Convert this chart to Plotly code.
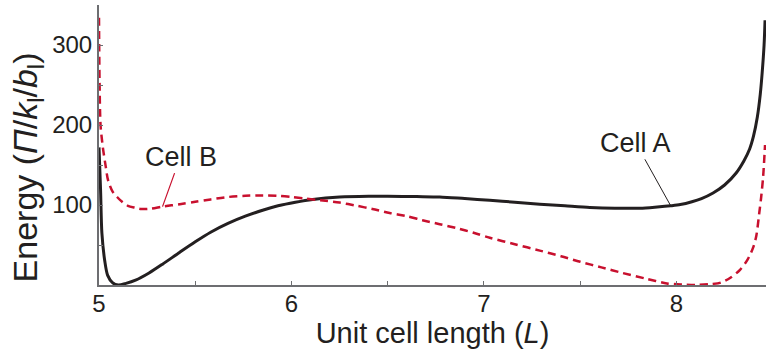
import plotly.graph_objects as go

# Energy landscape of two unit cells vs. unit cell length
cell_a_x = [5.000, 5.008, 5.015, 5.03, 5.045, 5.07, 5.10, 5.14, 5.19, 5.26, 5.33, 5.42,
            5.50, 5.58, 5.67, 5.76, 5.85, 5.93, 6.02, 6.11, 6.25, 6.40, 6.50, 6.65,
            6.77, 6.90, 7.03, 7.16, 7.29, 7.42, 7.55, 7.68, 7.81, 7.90, 7.97, 8.02,
            8.08, 8.13, 8.19, 8.25, 8.31, 8.35, 8.38, 8.40, 8.42, 8.435, 8.445, 8.455, 8.46]
cell_a_y = [172, 120, 65, 30, 12, 3, 0, 2, 6, 15, 26, 41,
            54, 66, 77, 86, 93.5, 99, 103.5, 107, 110, 111, 111, 110.5,
            110, 108, 106, 103.5, 101, 99, 97, 96, 96, 97.5, 99, 100.5,
            104, 108, 115, 125, 140, 155, 170, 186, 210, 238, 265, 300, 331]

cell_b_x = [5.000, 5.001, 5.003, 5.008, 5.02, 5.035, 5.047, 5.07, 5.094, 5.12, 5.15, 5.19,
            5.22, 5.27, 5.33, 5.42, 5.50, 5.58, 5.67, 5.76, 5.85, 5.93, 6.00, 6.07,
            6.15, 6.25, 6.34, 6.42, 6.51, 6.60, 6.68, 6.77, 6.86, 6.95, 7.03, 7.16,
            7.29, 7.40, 7.50, 7.61, 7.72, 7.84, 7.95, 8.03, 8.10, 8.17, 8.23, 8.28,
            8.33, 8.37, 8.40, 8.415, 8.43, 8.44, 8.45, 8.46]
cell_b_y = [334, 300, 252, 200, 172, 148, 131, 117, 110, 104, 99, 96.5,
            95, 95.5, 98, 101, 104, 107, 110, 111.5, 112, 111.5, 110, 108,
            106, 103, 99, 95, 90, 86, 81, 76, 71, 65, 59, 51,
            43, 36, 29, 22, 15, 8, 2, 0.5, 0, 1, 3, 9,
            19, 32, 48, 62, 90, 110, 135, 175]

x_ticks = [5, 5.5, 6, 6.5, 7, 7.5, 8]
x_tick_text = ["5", "", "6", "", "7", "", "8"]
y_ticks = [50, 100, 150, 200, 250, 300, 350]
y_tick_text = ["", "100", "", "200", "", "300", ""]

ink = "#231f20"
axis_gray = "#6d6e71"
red = "#c8102e"
font_family = "Liberation Sans, Arial, Helvetica, sans-serif"

fig = go.Figure()
fig.add_trace(go.Scatter(
    x=cell_a_x, y=cell_a_y, mode="lines", name="Cell A",
    line=dict(color=ink, width=3, shape="spline", smoothing=0.8),
))
fig.add_trace(go.Scatter(
    x=cell_b_x, y=cell_b_y, mode="lines", name="Cell B",
    line=dict(color=red, width=2.5, dash="8px,5px", shape="spline", smoothing=0.8),
))

# Leader-line labels attached to points on each curve
ia = cell_a_x.index(7.97)
ib = cell_b_x.index(5.33)
fig.add_annotation(x=cell_a_x[ia], y=cell_a_y[ia], text="Cell A", showarrow=True,
                   arrowhead=0, arrowwidth=1, arrowcolor=ink, ax=-35, ay=-63,
                   font=dict(size=27, color=ink, family=font_family))
fig.add_annotation(x=cell_b_x[ib], y=cell_b_y[ib], text="Cell B", showarrow=True,
                   arrowhead=0, arrowwidth=1.2, arrowcolor=red, ax=18, ay=-50,
                   font=dict(size=27, color=ink, family=font_family))

# Vertical axis title, set slightly below the axis midpoint
fig.add_annotation(xref="paper", yref="paper", x=0, y=0.42, xshift=-72,
                   xanchor="center", yanchor="middle", textangle=-90, showarrow=False,
                   text="Energy (<i>Π</i>/<i>k</i><sub>l</sub>/<i>b</i><sub>l</sub>)",
                   font=dict(size=34, color=ink, family=font_family))

fig.update_layout(
    width=766, height=356,
    margin=dict(l=99, r=0, t=5, b=71),
    paper_bgcolor="white", plot_bgcolor="white",
    showlegend=False,
    font=dict(family=font_family, color=ink),
)
fig.update_xaxes(
    range=[5, 8.465], tickvals=x_ticks, ticktext=x_tick_text,
    showline=True, linecolor=axis_gray, linewidth=2,
    ticks="inside", ticklen=4, tickcolor=axis_gray, tickwidth=1,
    showgrid=False, zeroline=False,
    tickfont=dict(size=24, color=ink), ticklabelstandoff=-4,
    title=dict(text="Unit cell length (<i>L</i>)", font=dict(size=29, color=ink), standoff=4),
)
fig.update_yaxes(
    range=[0, 350], tickvals=y_ticks, ticktext=y_tick_text,
    showline=True, linecolor=axis_gray, linewidth=2,
    ticks="inside", ticklen=4, tickcolor=axis_gray, tickwidth=1,
    showgrid=False, zeroline=False,
    tickfont=dict(size=24, color=ink),
)

fig.write_html("out.html")
